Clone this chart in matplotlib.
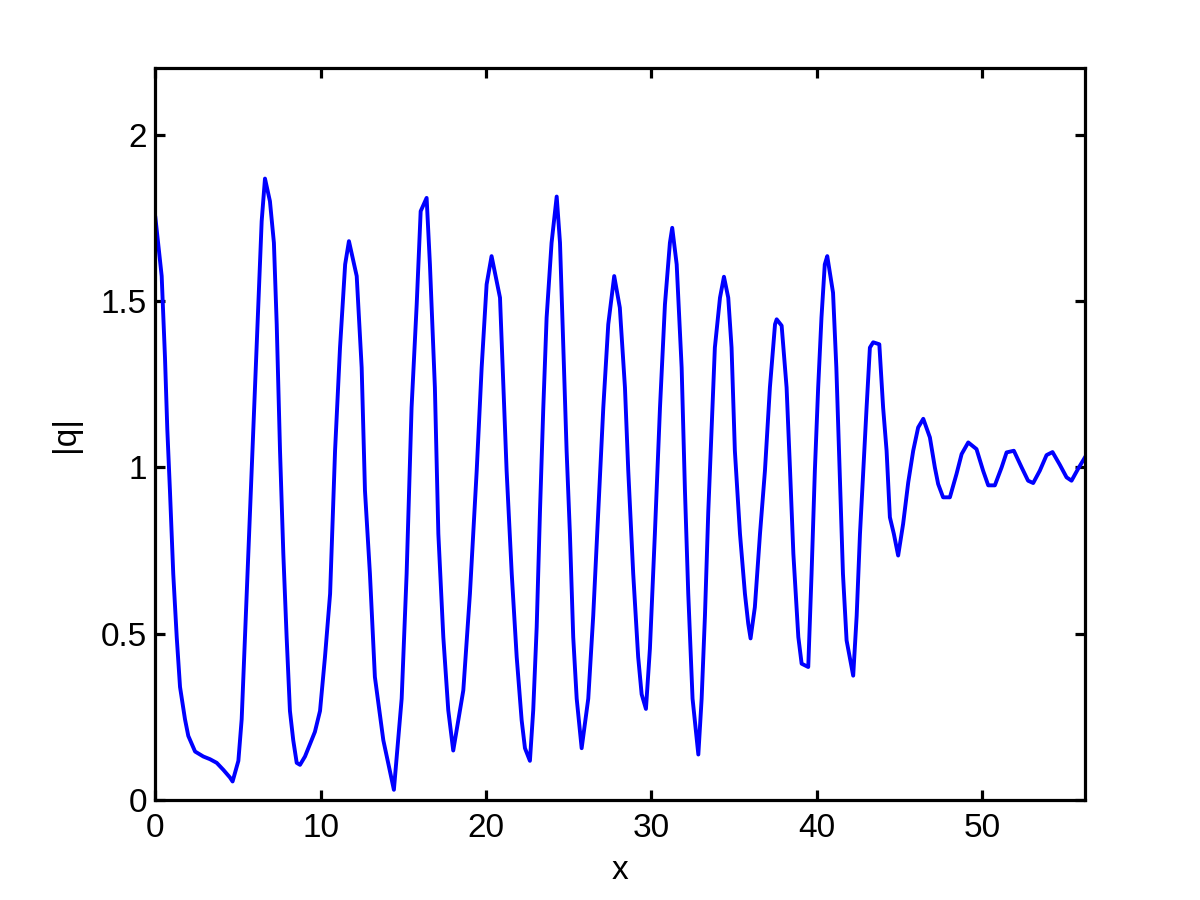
import matplotlib
matplotlib.use('Agg')
import matplotlib.pyplot as plt
import numpy as np

# valores
x = [0.0, 0.38, 0.58, 0.72, 0.88, 1.08, 1.29, 1.49, 1.79, 1.99, 2.4, 2.9, 3.3, 3.71,
     4.11, 4.51, 4.67, 5.02, 5.22, 5.42, 5.62, 5.83, 6.03, 6.23, 6.43, 6.63, 6.93,
     7.17, 7.34, 7.54, 7.74, 7.94, 8.14, 8.34, 8.55, 8.75, 9.05, 9.35, 9.65, 9.96,
     10.26, 10.57, 10.87, 11.17, 11.48, 11.71, 12.18, 12.48, 12.68, 12.98, 13.28,
     13.79, 14.43, 14.9, 15.2, 15.5, 15.81, 16.05, 16.41, 16.61, 16.91, 17.12, 17.42,
     17.72, 18.02, 18.63, 19.03, 19.44, 19.74, 20.04, 20.34, 20.85, 21.25, 21.56,
     21.86, 22.16, 22.36, 22.66, 22.86, 23.07, 23.27, 23.47, 23.67, 23.97, 24.28,
     24.48, 24.68, 24.88, 25.08, 25.28, 25.49, 25.79, 26.19, 26.49, 26.79, 27.1,
     27.4, 27.76, 28.1, 28.41, 28.61, 28.91, 29.21, 29.42, 29.68, 29.92, 30.22,
     30.53, 30.83, 31.13, 31.27, 31.54, 31.84, 32.04, 32.24, 32.5, 32.85, 33.05,
     33.25, 33.45, 33.65, 33.85, 34.16, 34.4, 34.66, 34.86, 35.06, 35.37, 35.67,
     35.87, 36.01, 36.27, 36.58, 36.88, 37.18, 37.49, 37.59, 37.89, 38.19, 38.4,
     38.6, 38.9, 39.1, 39.5, 39.7, 39.9, 40.1, 40.3, 40.5, 40.65, 41.0, 41.2, 41.4,
     41.6, 41.82, 42.22, 42.43, 42.63, 42.83, 43.03, 43.23, 43.43, 43.8, 44.03,
     44.24, 44.44, 44.68, 44.94, 45.24, 45.55, 45.85, 46.15, 46.46, 46.86, 47.16,
     47.36, 47.66, 48.07, 48.47, 48.78, 49.18, 49.68, 50.08, 50.39, 50.79, 51.2,
     51.5, 51.94, 52.41, 52.8, 53.11, 53.51, 53.92, 54.28, 54.72, 55.13, 55.43,
     55.83, 56.24]
q = [1.75, 1.575, 1.33, 1.115, 0.93, 0.68, 0.49, 0.34, 0.243, 0.193, 0.146, 0.131,
     0.123, 0.112, 0.091, 0.068, 0.056, 0.118, 0.243, 0.49, 0.74, 0.99, 1.24, 1.49,
     1.74, 1.868, 1.80, 1.675, 1.43, 1.05, 0.74, 0.49, 0.268, 0.18, 0.112, 0.106,
     0.131, 0.168, 0.205, 0.268, 0.43, 0.62, 1.05, 1.36, 1.61, 1.68, 1.575, 1.30,
     0.93, 0.68, 0.37, 0.18, 0.031, 0.305, 0.68, 1.18, 1.49, 1.77, 1.81, 1.61, 1.24,
     0.80, 0.49, 0.27, 0.149, 0.33, 0.62, 0.99, 1.30, 1.55, 1.635, 1.51, 0.99, 0.68,
     0.43, 0.24, 0.156, 0.118, 0.27, 0.52, 0.87, 1.18, 1.45, 1.675, 1.814, 1.675,
     1.36, 1.05, 0.80, 0.49, 0.305, 0.156, 0.305, 0.554, 0.865, 1.18, 1.43, 1.575,
     1.48, 1.24, 0.99, 0.68, 0.43, 0.318, 0.274, 0.455, 0.80, 1.18, 1.49, 1.675,
     1.72, 1.61, 1.30, 0.93, 0.62, 0.305, 0.137, 0.305, 0.554, 0.865, 1.11, 1.36,
     1.51, 1.573, 1.51, 1.36, 1.05, 0.80, 0.62, 0.53, 0.486, 0.58, 0.80, 0.99, 1.24,
     1.43, 1.445, 1.426, 1.24, 0.99, 0.74, 0.49, 0.41, 0.40, 0.68, 0.99, 1.24, 1.45,
     1.61, 1.635, 1.525, 1.30, 0.99, 0.68, 0.48, 0.374, 0.554, 0.80, 0.99, 1.18,
     1.36, 1.376, 1.37, 1.18, 1.05, 0.85, 0.80, 0.735, 0.83, 0.955, 1.05, 1.12,
     1.146, 1.09, 1.0, 0.95, 0.91, 0.91, 0.98, 1.04, 1.075, 1.055, 0.99, 0.946,
     0.946, 1.0, 1.045, 1.05, 1.0, 0.96, 0.953, 0.99, 1.037, 1.046, 1.008, 0.97,
     0.96, 0.996, 1.03]

xticks = [0, 10, 20, 30, 40, 50]
yticks = [0, 0.5, 1, 1.5, 2]
yticklabels = ['0', '0.5', '1', '1.5', '2']

plt.rcParams['font.family'] = ['Liberation Sans', 'DejaVu Sans']

fig = plt.figure(figsize=(12, 9), dpi=100)
ax = fig.add_axes([0.1295, 0.111, 0.7746, 0.8133])
ax.plot(x, q, color=(0, 0, 1), linewidth=2.8)

ax.set_xlim(0, 56.24)
ax.set_ylim(0, 2.2)
ax.set_xticks(xticks)
ax.set_yticks(yticks)
ax.set_yticklabels(yticklabels)
ax.tick_params(direction='in', length=7, width=2.3, top=True, right=True,
               labelsize=24, colors='black')
ax.tick_params(axis='x', pad=9)
ax.tick_params(axis='y', pad=6)
for s in ax.spines.values():
    s.set_linewidth(2.3)

ax.set_xlabel('x', fontsize=24, labelpad=8)
ax.set_ylabel('|q|', fontsize=24, labelpad=14)

plt.savefig('out.png', dpi=100)
